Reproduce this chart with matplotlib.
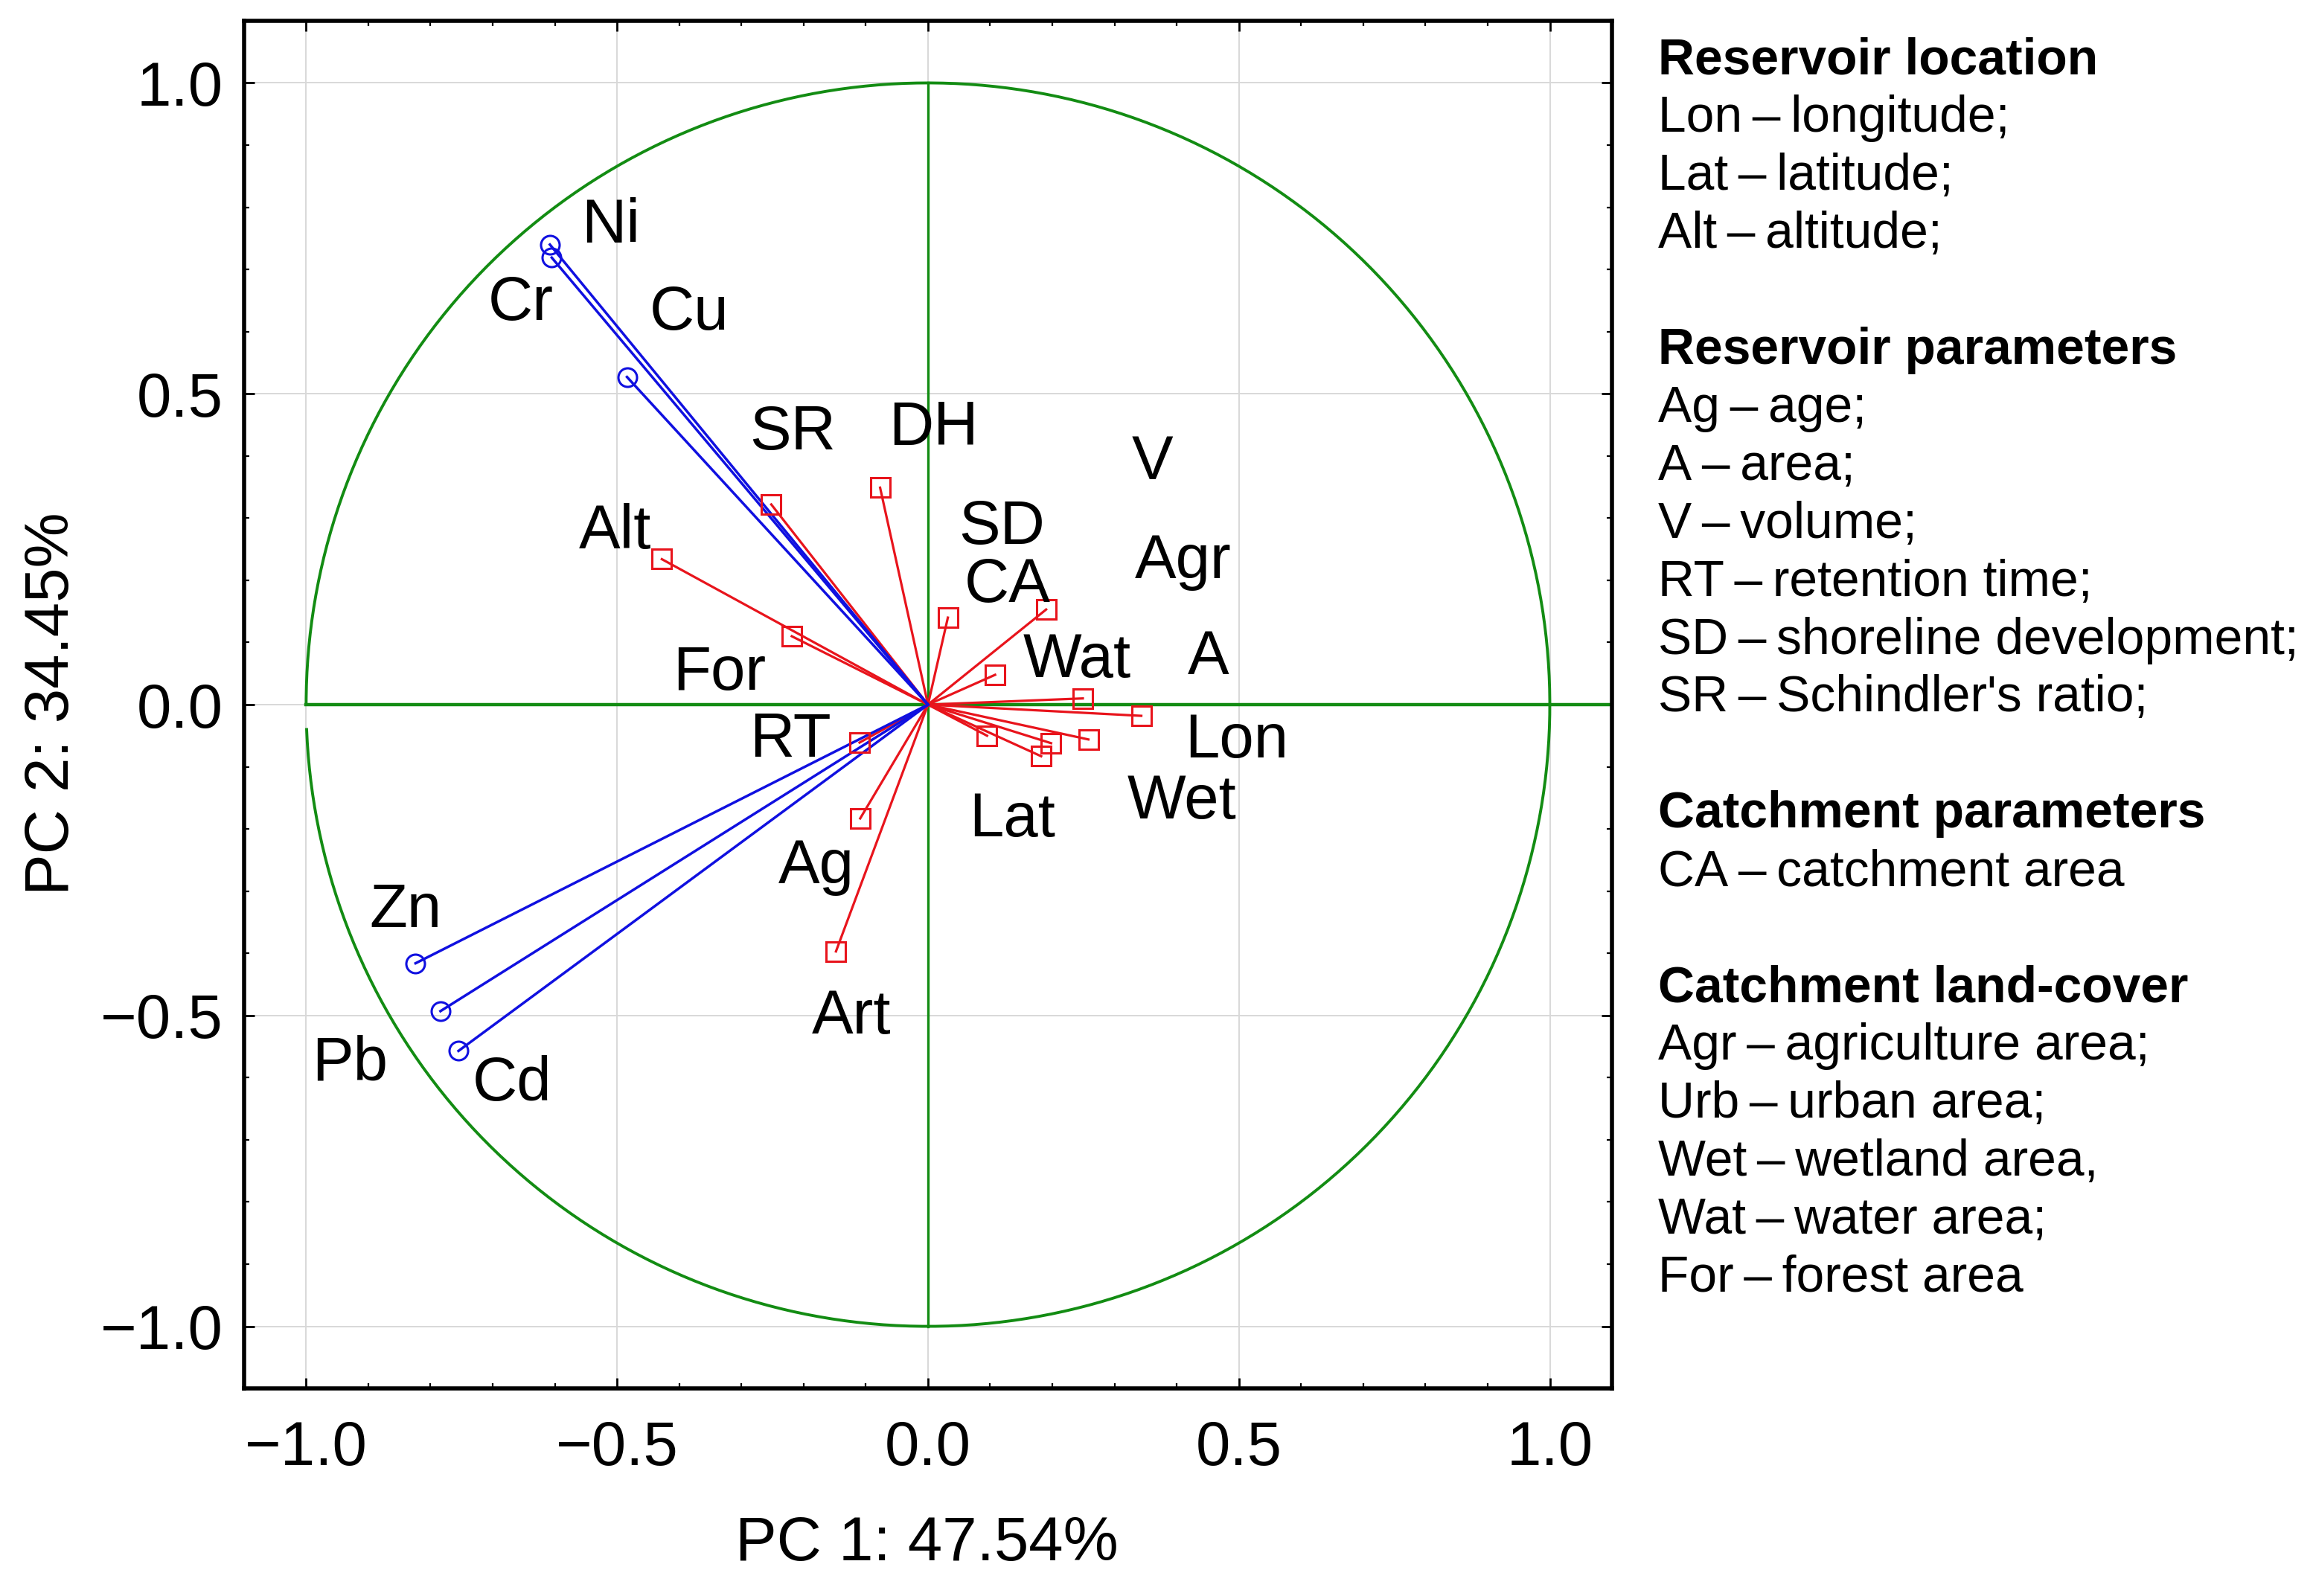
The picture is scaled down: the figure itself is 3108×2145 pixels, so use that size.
import numpy as np
import matplotlib
matplotlib.use('Agg')
import matplotlib.pyplot as plt

plt.rcParams['font.family'] = ['Liberation Sans', 'DejaVu Sans']

# heavy metals (blue vectors)
metal_names = ['Ni', 'Cr', 'Cu', 'Zn', 'Pb', 'Cd']
metal_pc1 = [-0.608, -0.605, -0.484, -0.824, -0.784, -0.755]
metal_pc2 = [0.740, 0.719, 0.527, -0.416, -0.493, -0.557]

# environmental variables (red vectors)
env_names = ['SR', 'DH', 'Alt', 'For', 'RT', 'Ag', 'Art', 'SD', 'CA', 'Wat',
             'A', 'Lon', 'Lat', 'Wet', 'V', 'Agr']
env_pc1 = [-0.252, -0.077, -0.428, -0.219, -0.110, -0.109, -0.148, 0.032,
           0.190, 0.108, 0.249, 0.343, 0.095, 0.258, 0.198, 0.182]
env_pc2 = [0.322, 0.349, 0.234, 0.110, -0.061, -0.183, -0.397, 0.140,
           0.153, 0.048, 0.010, -0.018, -0.050, -0.056, -0.062, -0.083]

# where the variable names sit on the plot
label_pos = {
    'Ni': (-0.510, 0.769), 'Cr': (-0.655, 0.645), 'Cu': (-0.384, 0.629),
    'SR': (-0.218, 0.437), 'DH': (0.009, 0.444), 'Alt': (-0.503, 0.278),
    'For': (-0.335, 0.050), 'RT': (-0.221, -0.057), 'V': (0.361, 0.389),
    'SD': (0.119, 0.285), 'CA': (0.128, 0.192), 'Agr': (0.410, 0.230),
    'Wat': (0.240, 0.071), 'A': (0.451, 0.076), 'Lon': (0.496, -0.059),
    'Wet': (0.408, -0.157), 'Lat': (0.135, -0.185), 'Ag': (-0.180, -0.261),
    'Art': (-0.123, -0.503), 'Zn': (-0.840, -0.332), 'Pb': (-0.930, -0.577),
    'Cd': (-0.669, -0.610),
}

x_label = 'PC 1: 47.54%'
y_label = 'PC 2: 34.45%'

D = '\u2009\u2013\u2009'
legend_lines = [
    ('Reservoir location', True),
    ('Lon' + D + 'longitude;', False),
    ('Lat' + D + 'latitude;', False),
    ('Alt' + D + 'altitude;', False),
    ('', False),
    ('Reservoir parameters', True),
    ('Ag' + D + 'age;', False),
    ('A' + D + 'area;', False),
    ('V' + D + 'volume;', False),
    ('RT' + D + 'retention time;', False),
    ('SD' + D + 'shoreline development;', False),
    ('SR' + D + 'Schindler\'s ratio;', False),
    ('', False),
    ('Catchment parameters', True),
    ('CA' + D + 'catchment area', False),
    ('', False),
    ('Catchment land-cover', True),
    ('Agr' + D + 'agriculture area;', False),
    ('Urb' + D + 'urban area;', False),
    ('Wet' + D + 'wetland area,', False),
    ('Wat' + D + 'water area;', False),
    ('For' + D + 'forest area', False),
]

fig = plt.figure(figsize=(15.54, 10.725), dpi=200)
ax = fig.add_axes([0.1052, 0.130, 0.592, 0.857])

# unit circle and axes cross
theta = np.linspace(np.pi + 0.04, 3 * np.pi, 600)
ax.plot(np.cos(theta), np.sin(theta), color='#138c13', lw=1.4, zorder=2)
ax.plot([-1, 1.1], [0, 0], color='#138c13', lw=1.6, zorder=2)
ax.plot([0, 0], [-1, 1], color='#138c13', lw=1.2, zorder=2)

for x, y in zip(env_pc1, env_pc2):
    ax.plot([0, x], [0, y], color='#e8141c', lw=1.15, zorder=3)
ax.plot(env_pc1, env_pc2, 's', ms=9.5, mfc='none', mec='#e8141c', mew=1.1, zorder=4)

for x, y in zip(metal_pc1, metal_pc2):
    ax.plot([0, x], [0, y], color='#1010e0', lw=1.25, zorder=3)
ax.plot(metal_pc1, metal_pc2, 'o', ms=9, mfc='none', mec='#1010e0', mew=1.1, zorder=4)

for name, (lx, ly) in label_pos.items():
    ax.text(lx, ly, name, fontsize=30, ha='center', va='center', zorder=5)

ax.set_xlim(-1.1, 1.1)
ax.set_ylim(-1.1, 1.1)
ax.set_aspect('equal', adjustable='box')
ax.set_xticks([-1.0, -0.5, 0.0, 0.5, 1.0])
ax.set_yticks([-1.0, -0.5, 0.0, 0.5, 1.0])
ax.set_xticks(np.arange(-1.0, 1.05, 0.1), minor=True)
ax.set_yticks(np.arange(-1.0, 1.05, 0.1), minor=True)
ax.set_xticklabels(['\u22121.0', '\u22120.5', '0.0', '0.5', '1.0'])
ax.set_yticklabels(['\u22121.0', '\u22120.5', '0.0', '0.5', '1.0'])
ax.grid(True, which='major', color='#d8d8d8', lw=0.7, zorder=0)
ax.tick_params(which='both', direction='in', top=True, right=True, labelsize=30)
ax.tick_params(which='major', length=5, width=1.0)
ax.tick_params(which='minor', length=2.5, width=0.8)
ax.tick_params(axis='x', pad=15)
ax.tick_params(axis='y', pad=10)
for sp in ax.spines.values():
    sp.set_linewidth(2.0)

fig.text(0.4006, 0.0326, x_label, fontsize=30, ha='center', va='center')
fig.text(0.0225, 0.559, y_label, fontsize=30, ha='center', va='center', rotation=90)

y0 = 0.962
for i, (txt, bold) in enumerate(legend_lines):
    if txt:
        fig.text(0.717, y0 - i * 0.03632, txt, fontsize=24.4, ha='left', va='center',
                 fontweight='bold' if bold else 'normal')

fig.savefig('out.png', dpi=200)
